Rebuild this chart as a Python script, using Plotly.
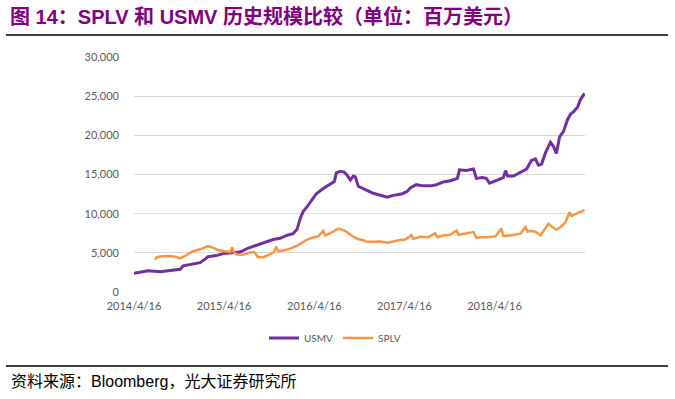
import plotly.graph_objects as go

usmv_dates = ["2014-04-16","2014-05-10","2014-06-12","2014-07-31","2014-09-17","2014-10-20","2014-11-01",
"2014-12-07","2015-01-09","2015-01-29","2015-02-10","2015-03-15","2015-04-12","2015-05-19","2015-06-20",
"2015-07-23","2015-08-28","2015-09-29","2015-11-01","2015-11-29","2015-12-28","2016-01-21","2016-02-06",
"2016-02-19","2016-03-02","2016-03-18","2016-04-07","2016-04-24","2016-05-22","2016-06-19","2016-07-06",
"2016-07-14","2016-07-30","2016-08-15","2016-08-27","2016-09-09","2016-09-21","2016-09-29","2016-10-11",
"2016-10-31","2016-11-17","2016-12-11","2017-01-08","2017-02-06","2017-02-26","2017-03-18","2017-04-08",
"2017-04-28","2017-05-10","2017-06-03","2017-07-02","2017-07-30","2017-08-24","2017-09-21","2017-10-19",
"2017-11-17","2017-11-25","2017-12-23","2018-01-21","2018-02-02","2018-02-26","2018-03-14","2018-03-27",
"2018-04-20","2018-05-10","2018-05-22","2018-05-31","2018-06-08","2018-07-02","2018-07-30","2018-08-24",
"2018-09-13","2018-09-29","2018-10-11","2018-10-24","2018-11-09","2018-11-29","2018-12-11","2018-12-23",
"2019-01-05","2019-01-21","2019-02-06","2019-02-18","2019-03-02","2019-03-19","2019-03-31","2019-04-08",
"2019-04-16"]
usmv_values = [2400,2500,2700,2600,2750,2900,3350,
3550,3750,4200,4500,4650,4900,5000,5100,
5600,6000,6400,6700,6850,7250,7450,8000,
9400,10300,10900,11800,12550,13200,13700,14100,
15200,15400,15300,14900,14300,14800,14700,13500,
13200,12950,12600,12350,12100,12300,12450,12550,
12850,13300,13700,13550,13550,13700,14050,14200,
14500,15600,15500,15700,14500,14600,14500,13900,
14200,14500,14600,15500,14800,14800,15300,15700,
16800,17000,16200,16300,17800,19100,18600,17700,
19800,20500,22000,22700,23000,23600,24600,25000,
25350]

splv_dates = ["2014-07-10","2014-07-18","2014-08-08","2014-09-09","2014-09-29","2014-10-20","2014-11-09",
"2014-12-11","2015-01-09","2015-02-10","2015-02-27","2015-03-19","2015-04-16","2015-05-11","2015-05-19",
"2015-05-27","2015-06-08","2015-07-02","2015-07-31","2015-08-16","2015-09-01","2015-09-21","2015-10-12",
"2015-11-05","2015-11-13","2015-11-21","2015-12-12","2016-01-01","2016-01-21","2016-02-06","2016-02-27",
"2016-03-18","2016-04-11","2016-05-02","2016-05-22","2016-05-30","2016-06-19","2016-07-10","2016-07-22",
"2016-08-07","2016-08-23","2016-09-09","2016-09-21","2016-10-07","2016-10-31","2016-11-17","2016-12-11",
"2017-01-08","2017-02-06","2017-03-02","2017-03-30","2017-04-20","2017-05-14","2017-05-22","2017-06-19",
"2017-07-22","2017-08-19","2017-08-28","2017-09-21","2017-10-19","2017-11-13","2017-11-21","2017-12-19",
"2018-01-21","2018-02-02","2018-02-18","2018-03-18","2018-04-20","2018-05-14","2018-05-22","2018-06-20",
"2018-07-14","2018-07-30","2018-08-20","2018-08-28","2018-09-09","2018-09-29","2018-10-20","2018-11-05",
"2018-11-21","2018-12-07","2018-12-23","2019-01-13","2019-01-29","2019-02-14","2019-02-22","2019-03-07",
"2019-03-23","2019-04-16"]
splv_values = [4100,4450,4550,4600,4500,4300,4600,
5200,5450,5850,5700,5400,5200,5100,5700,
5000,4800,4750,5050,5100,4450,4450,4700,
5100,5800,5200,5300,5450,5700,5900,6300,
6700,6950,7100,7800,7200,7500,7900,8100,
7950,7700,7300,7100,6800,6600,6400,6400,
6450,6300,6500,6650,6700,7250,6800,7050,
7000,7500,7000,7200,7300,7850,7300,7500,
7650,6900,7000,7000,7100,8100,7150,7200,
7300,7450,8300,7700,7800,7700,7250,8000,
8700,8300,7950,8400,8900,10200,9700,9900,
10100,10450]

tick_vals = ["2014-04-16","2015-04-16","2016-04-16","2017-04-16","2018-04-16"]
tick_text = ["2014/4/16","2015/4/16","2016/4/16","2017/4/16","2018/4/16"]

title_text = "图 14：SPLV 和 USMV 历史规模比较（单位：百万美元）"
source_text = "资料来源：Bloomberg，光大证券研究所"

fig = go.Figure()
fig.add_trace(go.Scatter(x=usmv_dates, y=usmv_values, mode="lines", name="USMV",
                         line=dict(color="#7030A0", width=3)))
fig.add_trace(go.Scatter(x=splv_dates, y=splv_values, mode="lines", name="SPLV",
                         line=dict(color="#F79646", width=2.5)))

W, H = 675, 399
L, R, T, B = 134, 585, 57, 292
def px(x): return (x - L) / (R - L)
def py(y): return (B - y) / (B - T)

fig.update_layout(
    width=W, height=H,
    margin=dict(l=L, r=W - R, t=T, b=H - B, autoexpand=False),
    paper_bgcolor="white", plot_bgcolor="white",
    font=dict(family="Lato, Open Sans, sans-serif", color="#595959", size=11),
    showlegend=True,
    legend=dict(orientation="h", x=px(335), y=py(338), xanchor="center", yanchor="middle",
                font=dict(size=10, color="#595959"), itemwidth=30, tracegroupgap=0),
    xaxis=dict(type="date", range=["2014-04-16", "2019-04-18"], tickvals=tick_vals, ticktext=tick_text,
               showgrid=False, zeroline=False, showline=False, ticks="", ticklabelstandoff=6,
               tickfont=dict(size=11, color="#595959")),
    yaxis=dict(range=[0, 30000], dtick=5000, tickformat=",", showgrid=True, gridcolor="#D9D9D9",
               gridwidth=1, zeroline=False, showline=False, ticks="", ticklabelstandoff=14,
               tickfont=dict(size=11, color="#595959")),
)

fig.add_annotation(text="<b>" + title_text + "</b>", xref="paper", yref="paper",
                   x=px(8), y=py(16), xanchor="left", yanchor="middle", showarrow=False,
                   font=dict(family="Liberation Sans, Noto Sans CJK SC, sans-serif", size=20, color="#800080"))
fig.add_annotation(text=source_text, xref="paper", yref="paper",
                   x=px(9), y=py(381), xanchor="left", yanchor="middle", showarrow=False,
                   font=dict(family="Liberation Sans, Noto Sans CJK SC, sans-serif", size=16, color="#000000"))
fig.add_shape(type="line", xref="paper", yref="paper", x0=px(6), x1=px(668), y0=py(35), y1=py(35),
              line=dict(color="#000000", width=1.5))
fig.add_shape(type="line", xref="paper", yref="paper", x0=px(6), x1=px(668), y0=py(366), y1=py(366),
              line=dict(color="#000000", width=1.5))

fig.write_html("out.html", config={"displayModeBar": False},
               post_script="document.body.style.margin='0';document.body.style.overflow='hidden';")
